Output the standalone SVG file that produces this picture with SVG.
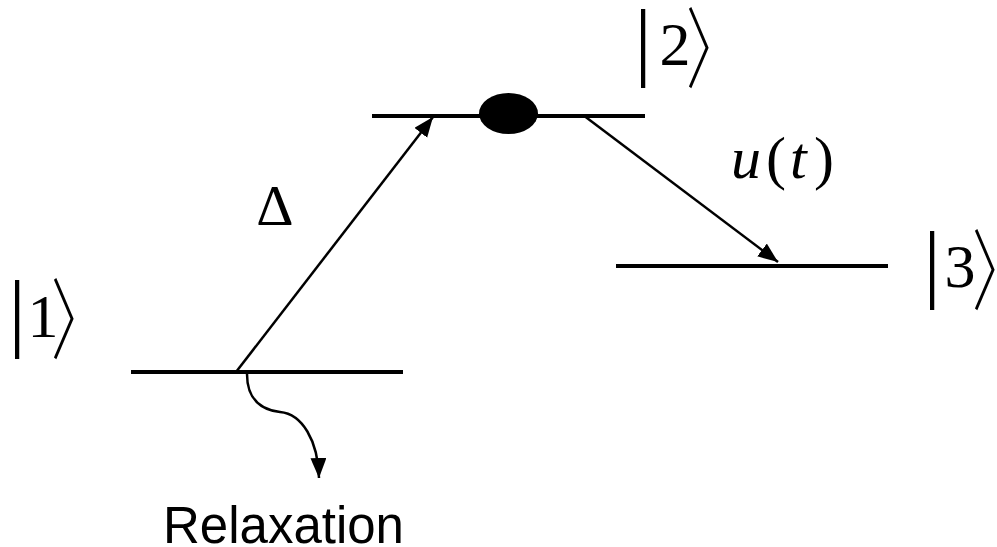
<svg xmlns="http://www.w3.org/2000/svg" width="997" height="547" viewBox="0 0 997 547">
<style>
.lvl{stroke:#000;stroke-width:4;fill:none}
.arr{stroke:#000;stroke-width:2.5;fill:none}
.m{font-family:"Liberation Serif","Times New Roman",serif;fill:#000}
.br{font-family:"Noto Sans CJK JP","Liberation Serif",serif;fill:#000;font-weight:300;font-size:88px}
.lab{font-family:"Liberation Sans",Arial,sans-serif;fill:#000}
</style>
<defs>
<marker id="ah" markerUnits="userSpaceOnUse" markerWidth="22" markerHeight="18" refX="20" refY="8" orient="auto">
<path d="M0,0 L20,8 L0,16 z" fill="#000"/>
</marker>
</defs>
<g id="level1">
<line class="lvl" x1="131" y1="372" x2="403" y2="372"/>
<text class="m" x="17" y="340" font-size="86" text-anchor="middle">|</text>
<text class="m" x="43" y="337" font-size="62" text-anchor="middle">1</text>
<text class="br" transform="translate(51,352) scale(0.65,1)">〉</text>
</g>
<g id="level2">
<line class="lvl" x1="372" y1="116" x2="645" y2="116"/>
<ellipse cx="508.5" cy="113.5" rx="29.5" ry="20.5" fill="#000"/>
<text class="m" x="643" y="69" font-size="86" text-anchor="middle">|</text>
<text class="m" x="675" y="65" font-size="62" text-anchor="middle">2</text>
<text class="br" transform="translate(686,81) scale(0.65,1)">〉</text>
</g>
<g id="level3">
<line class="lvl" x1="616" y1="266" x2="888" y2="266"/>
<text class="m" x="932" y="291" font-size="86" text-anchor="middle">|</text>
<text class="m" x="960" y="287" font-size="62" text-anchor="middle">3</text>
<text class="br" transform="translate(972,303) scale(0.65,1)">〉</text>
</g>
<g id="connectors">
<line class="arr" x1="236" y1="372" x2="433" y2="117" marker-end="url(#ah)"/>
<line class="arr" x1="583" y1="115" x2="778" y2="262" marker-end="url(#ah)"/>
<path class="arr" d="M247,374 C247,400 262,410 280,412 C302,414 318,440 319,478" marker-end="url(#ah)"/>
</g>
<g id="labels">
<text class="m" x="275" y="225" font-size="58" text-anchor="middle">Δ</text>
<text class="m" y="178" font-size="60"><tspan x="731" font-style="italic">u</tspan><tspan x="766">(</tspan><tspan x="790" font-style="italic">t</tspan><tspan x="814">)</tspan></text>
<text class="lab" x="163" y="543" font-size="51">Relaxation</text>
</g>
</svg>
